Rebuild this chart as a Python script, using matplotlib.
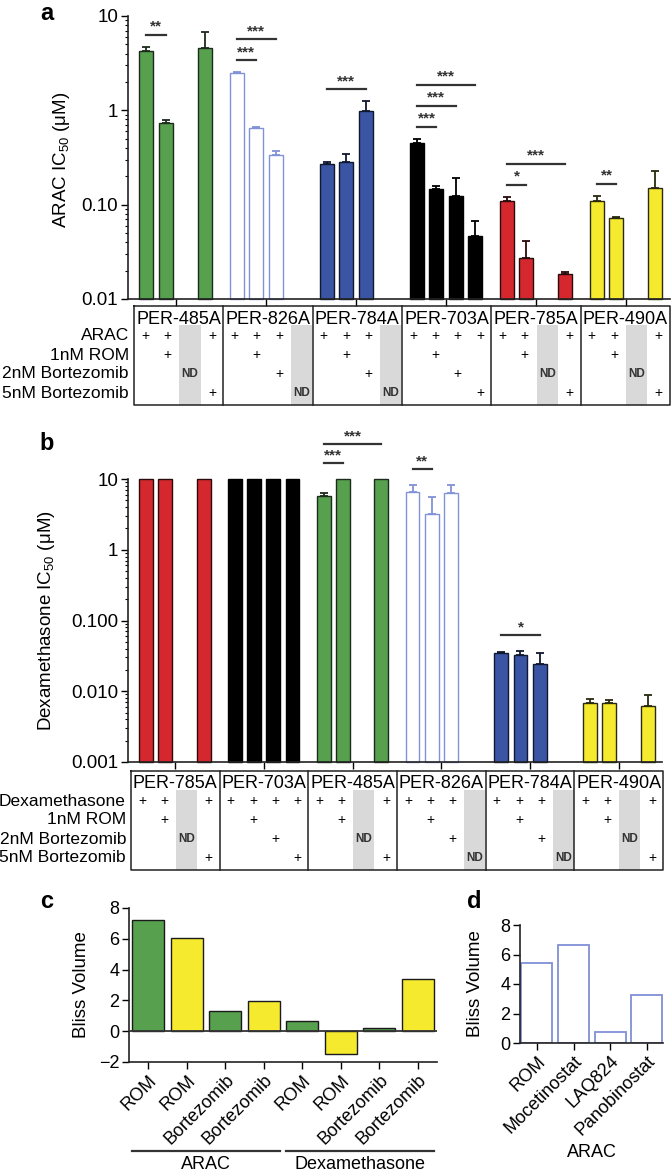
import numpy as np
import matplotlib
matplotlib.use('Agg')
import matplotlib.pyplot as plt
from matplotlib.patches import Rectangle
from matplotlib.ticker import LogLocator, NullFormatter

plt.rcParams['font.family'] = ['Liberation Sans', 'DejaVu Sans']
plt.rcParams['mathtext.fontset'] = 'custom'
plt.rcParams['mathtext.rm'] = 'Liberation Sans'
plt.rcParams['mathtext.it'] = 'Liberation Sans:italic'
plt.rcParams['mathtext.bf'] = 'Liberation Sans:bold'

W, H = 672, 1176

# --- data ---
# slots per cell line: drug alone, +1nM ROM, +2nM Bortezomib, +5nM Bortezomib (None = ND)
cells_a = ['PER-485A', 'PER-826A', 'PER-784A', 'PER-703A', 'PER-785A', 'PER-490A']
arac_ic50 = [[4.3, 0.73, None, 4.6],
             [2.5, 0.65, 0.34, None],
             [0.27, 0.28, 0.98, None],
             [0.45, 0.147, 0.124, 0.047],
             [0.109, 0.027, None, 0.0184],
             [0.109, 0.072, None, 0.150]]
arac_err = [[0.4, 0.06, None, 2.2],
            [0.05, 0.02, 0.03, None],
            [0.01, 0.065, 0.27, None],
            [0.05, 0.011, 0.066, 0.02],
            [0.013, 0.014, None, 0.001],
            [0.016, 0.002, None, 0.08]]
# (cell index, slot a, slot b, stars, stack level)
arac_sig = [(0, 0, 1, '**', 0), (1, 0, 1, '***', 0), (1, 0, 2, '***', 1),
            (2, 0, 2, '***', 0), (3, 0, 1, '***', 0), (3, 0, 2, '***', 1),
            (3, 0, 3, '***', 2), (4, 0, 1, '*', 0), (4, 0, 3, '***', 1),
            (5, 0, 1, '**', 0)]
rows_a = ['ARAC', '1nM ROM', '2nM Bortezomib', '5nM Bortezomib']
yticks_a = [0.01, 0.1, 1, 10]
ylabels_a = ['0.01', '0.10', '1', '10']

cells_b = ['PER-785A', 'PER-703A', 'PER-485A', 'PER-826A', 'PER-784A', 'PER-490A']
dex_ic50 = [[10, 10, None, 10],
            [10, 10, 10, 10],
            [5.7, 10, None, 10],
            [6.5, 3.2, 6.3, None],
            [0.0348, 0.0325, 0.0243, None],
            [0.0068, 0.0068, None, 0.0062]]
dex_err = [[0, 0, None, 0],
           [0, 0, 0, 0],
           [0.7, 0, None, 0],
           [1.6, 2.4, 1.9, None],
           [0.001, 0.004, 0.010, None],
           [0.0009, 0.0007, None, 0.0026]]
dex_sig = [(2, 0, 1, '***', 0), (2, 0, 3, '***', 1), (3, 0, 1, '**', 0),
           (4, 0, 2, '*', 0)]
rows_b = ['Dexamethasone', '1nM ROM', '2nM Bortezomib', '5nM Bortezomib']
yticks_b = [0.001, 0.01, 0.1, 1, 10]
ylabels_b = ['0.001', '0.010', '0.100', '1', '10']

bliss_c_labels = ['ROM', 'ROM', 'Bortezomib', 'Bortezomib',
                  'ROM', 'ROM', 'Bortezomib', 'Bortezomib']
bliss_c_cells = ['PER-485A', 'PER-490A'] * 4
bliss_c = [7.2, 6.05, 1.3, 1.95, 0.65, -1.5, 0.22, 3.4]
bliss_c_groups = ['ARAC', 'Dexamethasone']

bliss_d_labels = ['ROM', 'Mocetinostat', 'LAQ824', 'Panobinostat']
bliss_d = [5.4, 6.65, 0.72, 3.27]

# face, edge per cell line
colours = {
    'PER-485A': ('#56a04e', '#1c2b1c'),
    'PER-826A': ('white', '#8292d8'),
    'PER-784A': ('#3b55a5', '#101830'),
    'PER-703A': ('#000000', '#000000'),
    'PER-785A': ('#d5282e', '#2a0a0a'),
    'PER-490A': ('#f6ea2e', '#2a2a10'),
}
GROUP_STEP = 4.63

fig = plt.figure(figsize=(W / 100, H / 100), dpi=100)


def px_axes(l, t, r, b):
    return fig.add_axes([l / W, 1 - b / H, (r - l) / W, (b - t) / H])


def ic50_panel(ax, cells, vals, errs, sigs, yticks, ylabels, ax_h, pad_px, step_px):
    ymin = yticks[0]
    ax.set_yscale('log')
    ax.set_ylim(ymin, 10)
    ax.set_xlim(-0.95, 26.9)
    lo, hi = np.log10(ymin), 1.0
    for g, cell in enumerate(cells):
        face, edge = colours[cell]
        for s in range(4):
            v = vals[g][s]
            if v is None:
                continue
            x = g * GROUP_STEP + s
            ax.bar(x, v - ymin, bottom=ymin, width=0.72, color=face,
                   edgecolor=edge, lw=1.0, clip_on=False, zorder=2)
            if errs[g][s]:
                ax.errorbar(x, v, yerr=[[0], [errs[g][s]]], fmt='none',
                            ecolor=edge, elinewidth=1.3, capsize=3.2,
                            capthick=1.3, zorder=3, clip_on=False)
    # significance bars
    for g, a, b, stars, lvl in sigs:
        caps = [vals[g][s] + errs[g][s] for s in range(a, b + 1)
                if vals[g][s] is not None]
        f = (np.log10(max(caps)) - lo) / (hi - lo) + (pad_px + lvl * step_px) / ax_h
        x0, x1 = g * GROUP_STEP + a, g * GROUP_STEP + b
        ax.plot([x0, x1], [f, f], color='#333333', lw=1.6,
                transform=ax.get_xaxis_transform(), clip_on=False)
        ax.text((x0 + x1) / 2, f + 1.0 / ax_h, stars, ha='center', va='bottom',
                fontsize=11, fontweight='bold', color='#333333',
                transform=ax.get_xaxis_transform())
    ax.set_yticks(yticks)
    ax.set_yticklabels(ylabels)
    ax.yaxis.set_minor_locator(LogLocator(subs=np.arange(2, 10)))
    ax.yaxis.set_minor_formatter(NullFormatter())
    ax.set_xticks([g * GROUP_STEP + 1.5 for g in range(len(cells))])
    ax.set_xticklabels([])
    ax.tick_params(axis='both', which='major', direction='out', length=5,
                   width=1, labelsize=13.5, pad=2)
    ax.tick_params(axis='y', which='minor', direction='out', length=2.5, width=0.8)
    for sp in ['top', 'right']:
        ax.spines[sp].set_visible(False)
    for sp in ['left', 'bottom']:
        ax.spines[sp].set_linewidth(1.2)
        ax.spines[sp].set_color('#222222')


ax_a = px_axes(128, 16, 670, 299)
ic50_panel(ax_a, cells_a, arac_ic50, arac_err, arac_sig, yticks_a, ylabels_a,
           283, 12, 21)
ax_b = px_axes(128, 479, 662, 762)
ic50_panel(ax_b, cells_b, dex_ic50, dex_err, dex_sig, yticks_b, ylabels_b,
           283, 16, 19)

# --- panel c ---
ax_c = px_axes(129, 908, 437, 1062)
xc = np.arange(len(bliss_c))
ax_c.bar(xc, bliss_c, width=0.83, color=[colours[c][0] for c in bliss_c_cells],
         edgecolor='#1a1a1a', lw=1.0, zorder=2)
ax_c.axhline(0, color='#333333', lw=1.3, zorder=3)
ax_c.set_ylim(-2, 8)
ax_c.set_xlim(-0.5, 7.5)
ax_c.set_yticks(range(-2, 9, 2))
ax_c.set_xticks(xc)
ax_c.set_xticklabels(bliss_c_labels, rotation=45, ha='right', rotation_mode='anchor')
for i, name in enumerate(bliss_c_groups):
    x0, x1 = i * 4 - 0.42, i * 4 + 3 + 0.42
    ax_c.plot([x0, x1], [-0.58, -0.58], color='#333333', lw=1.6,
              transform=ax_c.get_xaxis_transform(), clip_on=False)
    ax_c.text((x0 + x1) / 2, -0.665, name, ha='center', va='center', fontsize=13,
              transform=ax_c.get_xaxis_transform())

# --- panel d ---
ax_d = px_axes(520, 925, 663, 1043)
xd = np.arange(len(bliss_d))
ax_d.bar(xd, bliss_d, width=0.85, color='white', edgecolor='#8090d6', lw=1.3, zorder=2)
ax_d.set_ylim(0, 8)
ax_d.set_xlim(-0.46, 3.44)
ax_d.set_yticks(range(0, 9, 2))
ax_d.set_xticks(xd)
ax_d.set_xticklabels(bliss_d_labels, rotation=45, ha='right', rotation_mode='anchor')
ax_d.text(0.5, -0.93, 'ARAC', ha='center', va='center', fontsize=13,
          transform=ax_d.transAxes)

for ax in (ax_c, ax_d):
    ax.tick_params(axis='both', direction='out', length=5, width=1,
                   labelsize=13, pad=2)
    for sp in ['top', 'right']:
        ax.spines[sp].set_visible(False)
    for sp in ['left', 'bottom']:
        ax.spines[sp].set_linewidth(1.2)
        ax.spines[sp].set_color('#222222')

# --- overlay for tables and labels (pixel coordinates) ---
ov = fig.add_axes([0, 0, 1, 1])
ov.set_xlim(0, W)
ov.set_ylim(H, 0)
ov.axis('off')
ov.patch.set_visible(False)


def drug_table(left, right, top, bottom, cells, vals, rows):
    bw = (right - left) / len(cells)
    cw = bw / 4
    row_y = [top + 30 + 19 * r for r in range(4)]
    for g, cell in enumerate(cells):
        x0 = left + g * bw
        ov.text(x0 + bw / 2, top + 13, cell, ha='center', va='center', fontsize=13)
        for s in range(4):
            cx = x0 + (s + 0.5) * cw
            if vals[g][s] is None:
                ov.add_patch(Rectangle((cx - cw / 2 + 0.5, top + 19), cw - 1,
                                       bottom - top - 19, color='#d9d9d9', lw=0))
                ov.text(cx, row_y[s], 'ND', ha='center', va='center',
                        fontsize=8.5, fontweight='bold', color='#333333')
            else:
                ov.text(cx, row_y[0], '+', ha='center', va='center', fontsize=10)
                if s:
                    ov.text(cx, row_y[s], '+', ha='center', va='center', fontsize=10)
        if g:
            ov.plot([x0, x0], [top, bottom], color='#222222', lw=1.1)
    ov.plot([left, right, right, left, left], [top, top, bottom, bottom, top],
            color='#222222', lw=1.1)
    for r, name in enumerate(rows):
        ov.text(left - 5, row_y[r], name, ha='right', va='center', fontsize=12.5)


drug_table(134, 670, 306, 405, cells_a, arac_ic50, rows_a)
drug_table(131, 663, 771, 870, cells_b, dex_ic50, rows_b)

for lbl, x, y in [('a', 47, 13), ('b', 47, 443), ('c', 47, 902), ('d', 474, 902)]:
    ov.text(x, y, lbl, ha='center', va='center', fontsize=17, fontweight='bold')

ov.text(61, 160, 'ARAC IC$_{50}$ (\u03bcM)', rotation=90, ha='center', va='center', fontsize=13.5)
ov.text(47, 621, 'Dexamethasone IC$_{50}$ (\u03bcM)', rotation=90, ha='center',
        va='center', fontsize=13.5)
ov.text(81, 985, 'Bliss Volume', rotation=90, ha='center', va='center', fontsize=13.5)
ov.text(476, 984, 'Bliss Volume', rotation=90, ha='center', va='center', fontsize=13.5)

fig.savefig('out.png', dpi=100)
